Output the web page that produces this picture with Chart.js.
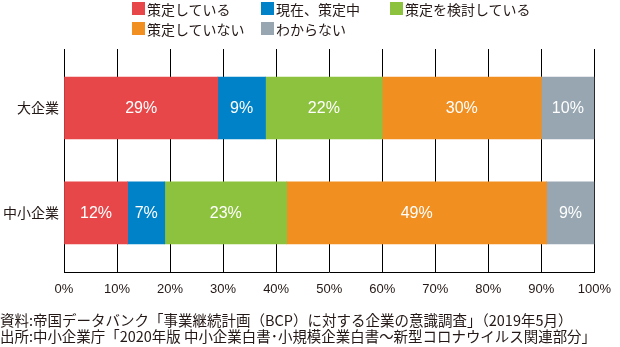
<!DOCTYPE html>
<html>
<head>
<meta charset="utf-8">
<script src="https://cdn.jsdelivr.net/npm/chart.js@4/dist/chart.umd.min.js"></script>
<style>
  html, body { margin: 0; padding: 0; background: #fff; }
  .wrap { position: relative; width: 620px; height: 347px; }
  #legend {
    position: absolute; left: 132px; top: 1px;
    display: grid; grid-template-columns: repeat(3, 129px); row-gap: 5px;
    font-family: "Noto Sans CJK JP", sans-serif; font-size: 14px; color: #231815;
  }
  #legend .item { display: flex; align-items: center; height: 15px; white-space: nowrap; }
  #legend .box { flex: 0 0 13px; width: 13px; height: 13px; margin-right: 2px; }
</style>
</head>
<body>
<div class="wrap">
  <canvas id="myChart" width="620" height="347"></canvas>
  <div id="legend"></div>
</div>
<script>
// categories / series
const categories = ["大企業", "中小企業"];
const seriesNames = ["策定している", "現在、策定中", "策定を検討している", "策定していない", "わからない"];
const seriesColors = ["#E8474A", "#0082C8", "#8DC23F", "#F18F20", "#97A6B1"];
const planned = [29, 12];
const planning = [9, 7];
const considering = [22, 23];
const notPlanned = [30, 49];
const unknown = [10, 9];
const xTicks = [0, 10, 20, 30, 40, 50, 60, 70, 80, 90, 100];
const notes = [
  "資料:帝国データバンク「事業継続計画（BCP）に対する企業の意識調査」（2019年5月）",
  "出所:中小企業庁「2020年版 中小企業白書･小規模企業白書～新型コロナウイルス関連部分」"
];

const values = [planned, planning, considering, notPlanned, unknown];

// labels inside the bars
const barLabels = {
  id: "barLabels",
  afterDatasetsDraw(chart) {
    const ctx = chart.ctx;
    ctx.save();
    ctx.fillStyle = "#fff";
    ctx.font = "16px 'Liberation Sans', Arial, sans-serif";
    ctx.textAlign = "center";
    ctx.textBaseline = "middle";
    chart.data.datasets.forEach(function (ds, i) {
      chart.getDatasetMeta(i).data.forEach(function (bar, j) {
        const cx = (bar.x + bar.base) / 2;
        ctx.fillText(ds.data[j] + "%", cx, bar.y + 1);
      });
    });
    ctx.restore();
  }
};

const data = {
  labels: categories.map(function (c, i) { return i; }),
  datasets: seriesNames.map(function (name, i) {
    return {
      label: name,
      data: values[i],
      backgroundColor: seriesColors[i],
      borderWidth: 0,
      barThickness: 62
    };
  })
};

const config = {
  type: "bar",
  data: data,
  options: {
    indexAxis: "y",
    responsive: false,
    animation: false,
    layout: { padding: { top: 49, right: 24, left: 0, bottom: 3 } },
    scales: {
      x: {
        stacked: true,
        min: 0,
        max: 100,
        afterBuildTicks: function (scale) {
          scale.ticks = xTicks.map(function (v) { return { value: v }; });
        },
        afterFit: function (scale) { scale.height = 40; },
        grid: { color: "#000", lineWidth: 1, drawTicks: false },
        border: { display: true, color: "#000", width: 1 },
        ticks: {
          padding: 9,
          color: "#231815",
          font: { family: "'Liberation Sans', Arial, sans-serif", size: 13 },
          maxRotation: 0,
          callback: function (v) { return v + "%"; }
        }
      },
      y: {
        type: "linear",
        stacked: true,
        reverse: true,
        offset: false,
        bounds: "data",
        grace: 0,
        min: -0.563,
        max: 1.573,
        afterDataLimits: function (scale) {
          scale.min = -0.563;
          scale.max = 1.573;
        },
        afterBuildTicks: function (scale) {
          scale.ticks = categories.map(function (c, i) { return { value: i }; });
        },
        afterFit: function (scale) { scale.width = 64; },
        grid: { display: false, drawTicks: false },
        border: { display: false },
        ticks: {
          padding: 5,
          stepSize: 1,
          color: "#231815",
          font: { family: "'Noto Sans CJK JP', sans-serif", size: 14 },
          callback: function (v) { return categories[v]; }
        }
      }
    },
    plugins: {
      legend: { display: false },
      tooltip: { enabled: false },
      title: {
        display: true,
        position: "bottom",
        align: "start",
        text: notes,
        color: "#231815",
        padding: { top: 0, bottom: 0 },
        font: { family: "'Noto Sans CJK JP', sans-serif", size: 14.5, weight: "normal", lineHeight: 1.07 }
      }
    }
  },
  plugins: [barLabels]
};

var myChart = new Chart(document.getElementById("myChart"), config);

// legend in two rows, three columns
var legendEl = document.getElementById("legend");
myChart.data.datasets.forEach(function (ds) {
  var item = document.createElement("div");
  item.className = "item";
  var box = document.createElement("span");
  box.className = "box";
  box.style.background = ds.backgroundColor;
  var txt = document.createElement("span");
  txt.textContent = ds.label;
  item.appendChild(box);
  item.appendChild(txt);
  legendEl.appendChild(item);
});
</script>
</body>
</html>
